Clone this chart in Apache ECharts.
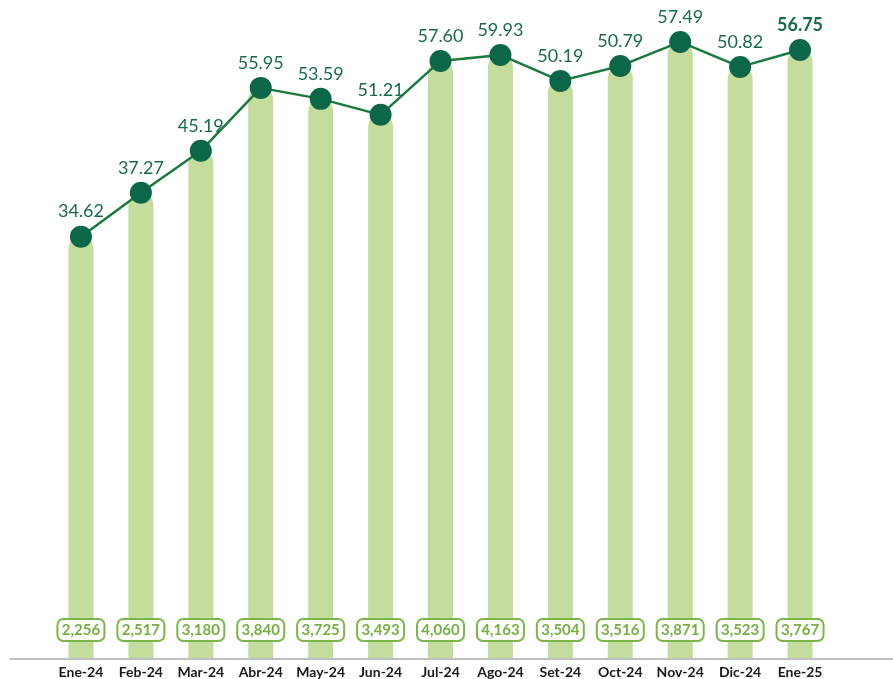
<!DOCTYPE html>
<html>
<head>
<meta charset="utf-8">
<script src="https://cdn.jsdelivr.net/npm/echarts@6/dist/echarts.min.js"></script>
<style>html,body{margin:0;padding:0;background:#fff}#c{width:893px;height:679px}</style>
</head>
<body>
<div id="c"></div>
<script>
// Categories (months)
const months = ['Ene-24','Feb-24','Mar-24','Abr-24','May-24','Jun-24','Jul-24','Ago-24','Set-24','Oct-24','Nov-24','Dic-24','Ene-25'];
// Line labels (displayed values)
const lineValues = [34.62, 37.27, 45.19, 55.95, 53.59, 51.21, 57.60, 59.93, 50.19, 50.79, 57.49, 50.82, 56.75];
// Bar labels (displayed values)
const barValues = [2256, 2517, 3180, 3840, 3725, 3493, 4060, 4163, 3504, 3516, 3871, 3523, 3767];
// Plotted height of each bar / marker (hidden plotting level)
const plotLevel = [422, 466, 508, 571, 560, 544, 598, 604, 578, 593, 617, 592, 609];

const FONT = 'Lato, "Open Sans", sans-serif';
const chart = echarts.init(document.getElementById('c'), null, {renderer: 'canvas'});
chart.setOption({
  animation: false,
  backgroundColor: '#ffffff',
  grid: [
    {left: 51, right: 63, top: 9, bottom: 20},
    {left: 10, right: 0, top: 9, bottom: 20}
  ],
  xAxis: [
    {
      type: 'category', gridIndex: 0, data: months,
      axisLine: {show: false}, axisTick: {show: false},
      axisLabel: {interval: 0, color: '#1a1a1a', fontFamily: FONT, fontWeight: 'bold', fontSize: 14, margin: 7}
    },
    {
      type: 'category', gridIndex: 1, data: [''],
      axisLine: {show: true, lineStyle: {color: '#bfbfbf', width: 2}},
      axisTick: {show: false}, axisLabel: {show: false}
    }
  ],
  yAxis: [
    {type: 'value', gridIndex: 0, min: 0, max: 650, show: false, splitLine: {show: false}},
    {type: 'value', gridIndex: 1, min: 0, max: 650, show: false, splitLine: {show: false}}
  ],
  series: [
    {
      type: 'bar', xAxisIndex: 0, yAxisIndex: 0,
      data: plotLevel.map((v, i) => ({value: v, label: {formatter: barValues[i].toLocaleString('en-US')}})),
      barWidth: 25,
      itemStyle: {color: '#c4dd9d', borderRadius: [12, 12, 0, 0]},
      label: {
        show: true, position: 'insideBottom', distance: 18,
        color: '#76b043', fontFamily: FONT, fontWeight: 'bold', fontSize: 15, lineHeight: 17,
        backgroundColor: '#ffffff', borderColor: '#7ab648', borderWidth: 2, borderRadius: 5,
        padding: [2, 3, 1, 3], width: 39, align: 'center'
      },
      z: 2
    },
    {
      type: 'line', xAxisIndex: 0, yAxisIndex: 0,
      data: plotLevel.map((v, i) => ({
        value: v,
        label: {
          formatter: lineValues[i].toFixed(2),
          fontWeight: i === lineValues.length - 1 ? 'bold' : 'normal'
        }
      })),
      symbol: 'circle', symbolSize: 22,
      itemStyle: {color: '#0b6748'},
      lineStyle: {color: '#1a7a3e', width: 2.5},
      label: {
        show: true, position: 'top', distance: 5,
        color: '#186a4f', fontFamily: FONT, fontSize: 18
      },
      z: 5
    }
  ]
});
</script>
</body>
</html>
